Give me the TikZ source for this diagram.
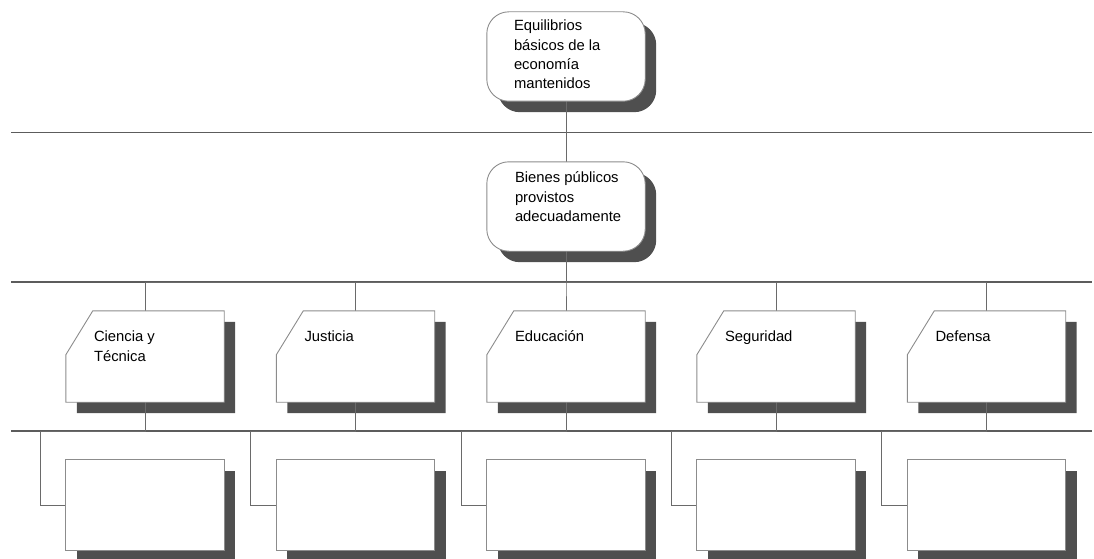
\documentclass[tikz,border=0pt]{standalone}
\usepackage{fontspec}
\setmainfont{Liberation Sans}
\definecolor{shade}{HTML}{4F4F4F}
\definecolor{frame}{HTML}{8C8C8C}
\definecolor{rulegray}{HTML}{5C5C5C}
\definecolor{conngray}{HTML}{6A6A6A}
\begin{document}
\begin{tikzpicture}[x=1pt,y=-1pt,
  topbox/.style={draw=none, minimum width=158pt, minimum height=89pt, inner sep=0pt},
  midbox/.style={draw=none, minimum width=158pt, minimum height=91pt, inner sep=0pt},
  lowbox/.style={draw=none, minimum width=158pt, minimum height=90pt, inner sep=0pt},
  shadowfill/.style={fill=shade},
  outline/.style={draw=frame, line width=0.9pt, fill=white},
  txt/.style={font=\fontsize{14.8}{19.3}\selectfont, align=left, inner sep=0pt, anchor=north west},
  hrule/.style={draw=rulegray, line width=1.3pt},
  conn/.style={draw=conngray, line width=0.9pt}
]
\useasboundingbox (0,0) rectangle (1094,559);

% node frames (positions only)
\node[topbox] (A) at (566,56.5) {};
\node[topbox] (B) at (566,206.5) {};
\node[midbox] (m1) at (145,356.5) {};
\node[midbox] (m2) at (355.5,356.5) {};
\node[midbox] (m3) at (566,356.5) {};
\node[midbox] (m4) at (776,356.5) {};
\node[midbox] (m5) at (986.5,356.5) {};
\node[lowbox] (b1) at (145,505) {};
\node[lowbox] (b2) at (355.5,505) {};
\node[lowbox] (b3) at (566,505) {};
\node[lowbox] (b4) at (776,505) {};
\node[lowbox] (b5) at (986.5,505) {};

% shadows
\foreach \n in {A,B} {
  \fill[shadowfill, rounded corners=22pt] ([shift={(11,11)}]\n.north west) rectangle ([shift={(11,11)}]\n.south east);
}
\foreach \i in {1,...,5} {
  \fill[shadowfill] ([shift={(38,11)}]m\i.north west) -- ([shift={(11,11)}]m\i.north east)
     -- ([shift={(11,11)}]m\i.south east) -- ([shift={(11,11)}]m\i.south west)
     -- ([shift={(11,55)}]m\i.north west) -- cycle;
  \fill[shadowfill] ([shift={(11,11)}]b\i.north west) rectangle ([shift={(11,11)}]b\i.south east);
}

% horizontal rules
\coordinate (r1w) at (11,132.5); \coordinate (r1e) at (1092,132.5);
\coordinate (r2w) at (11,282);   \coordinate (r2e) at (1092,282);
\coordinate (r3w) at (11,431);   \coordinate (r3e) at (1092,431);
\draw[hrule] (r1w) -- (r1e);
\draw[hrule] (r2w) -- (r2e);
\draw[hrule] (r3w) -- (r3e);

% branch points on the lower rule
\coordinate (k1) at (40,431);
\coordinate (k2) at (250.5,431);
\coordinate (k3) at (461,431);
\coordinate (k4) at (671,431);
\coordinate (k5) at (881.5,431);

% connectors
\draw[conn] (A.south) -- (B.north);
\foreach \i in {1,...,5} {
  \draw[conn] (B.south) -- (B.south |- r2w) -| (m\i.north);
  \draw[conn] (m\i.south) |- (k\i) |- (b\i.west);
}

% shapes
\foreach \n in {A,B} {
  \path[outline, rounded corners=22pt] (\n.north west) rectangle (\n.south east);
}
\foreach \i in {1,...,5} {
  \path[outline] ([xshift=27pt]m\i.north west) -- (m\i.north east) -- (m\i.south east)
     -- (m\i.south west) -- ([yshift=-44pt]m\i.north west) -- cycle;
  \path[outline] (b\i.north west) rectangle (b\i.south east);
}

% texts
\node[txt] (tA) at ([shift={(27,8)}]A.north west) {Equilibrios\\básicos de la\\economía\\mantenidos};
\node[txt] (tB) at ([shift={(28,10)}]B.north west) {Bienes públicos\\provistos\\adecuadamente};
\node[txt] (t1) at ([shift={(28,20)}]m1.north west) {Ciencia y\\Técnica};
\node[txt] (t2) at ([shift={(28,20)}]m2.north west) {Justicia};
\node[txt] (t3) at ([shift={(28,20)}]m3.north west) {Educación};
\node[txt] (t4) at ([shift={(28,20)}]m4.north west) {Seguridad};
\node[txt] (t5) at ([shift={(28,20)}]m5.north west) {Defensa};
\end{tikzpicture}
\end{document}
